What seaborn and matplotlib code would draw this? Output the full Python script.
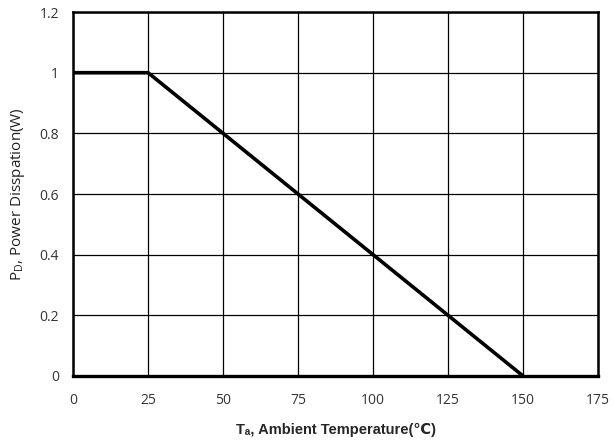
import numpy as np
import pandas as pd
import matplotlib
matplotlib.use("Agg")
import matplotlib.pyplot as plt
import seaborn as sns

# derating curve
temp = [0, 25, 150]
power = [1.0, 1.0, 0.0]
x_ticks = [0, 25, 50, 75, 100, 125, 150, 175]
y_ticks = [0, 0.2, 0.4, 0.6, 0.8, 1.0, 1.2]
y_ticklabels = ["0", "0.2", "0.4", "0.6", "0.8", "1", "1.2"]

sns.set_style("white")
plt.rcParams["font.family"] = ["Open Sans", "DejaVu Sans"]
plt.rcParams["mathtext.default"] = "regular"

df = pd.DataFrame({"temp": temp, "power": power})

fig = plt.figure(figsize=(6.14, 4.46), dpi=100)
ax = fig.add_axes([0.119, 0.157, 0.855, 0.816])

sns.lineplot(data=df, x="temp", y="power", color="black", linewidth=2.6, ax=ax, zorder=3)

ax.set_xlim(0, 175)
ax.set_ylim(0, 1.2)
ax.set_xticks(x_ticks)
ax.set_yticks(y_ticks)
ax.set_yticklabels(y_ticklabels)
ax.grid(True, color="black", linewidth=0.9)
for s in ax.spines.values():
    s.set_color("black")
    s.set_linewidth(1.8)
ax.spines["bottom"].set_linewidth(2.4)
ax.tick_params(axis="both", which="both", direction="out", length=4, width=0.8,
               color="#888888", labelsize=10, labelcolor="#333333", pad=6)
ax.tick_params(axis="x", pad=8)

# unicode subscript so the font fallback can find ℃
ax.set_xlabel("Tₐ, Ambient Temperature(℃)", fontsize=10.5, fontweight="bold",
              family=["Liberation Sans", "DejaVu Sans"], labelpad=11)
ax.set_ylabel("P$_D$, Power Disspation(W)", fontsize=11, color="#222222", labelpad=9)

fig.savefig("out.png", dpi=100)
